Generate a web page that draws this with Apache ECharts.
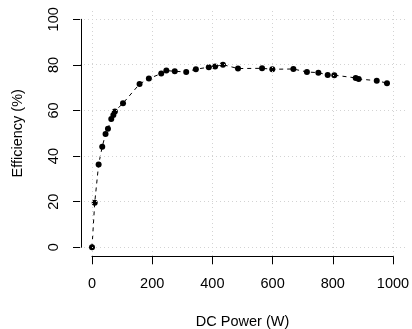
<!DOCTYPE html>
<html><head><meta charset="utf-8">
<script src="https://cdn.jsdelivr.net/npm/echarts@6/dist/echarts.min.js"></script>
<style>html,body{margin:0;padding:0;background:#fff}#c{width:412px;height:329px}</style>
</head><body><div id="c"></div>
<script>
const power = [0, 9, 22, 34, 45, 53, 64, 71, 76, 103, 158, 189, 230, 247, 275, 313, 345, 388, 409, 435, 485, 565, 599, 669, 714, 752, 783, 805, 876, 886, 946, 980];
const efficiency = [0, 19.5, 36.3, 44.1, 49.7, 52, 56.3, 58, 59.6, 63.2, 71.6, 74, 76.2, 77.5, 77.2, 76.9, 78.1, 79, 79.3, 80.1, 78.4, 78.5, 78.1, 78.2, 76.9, 76.6, 75.6, 75.5, 74.3, 73.8, 73.1, 72];
const xTicks = [0, 200, 400, 600, 800, 1000];
const yTicks = [0, 20, 40, 60, 80, 100];
const xTitle = 'DC Power (W)';
const yTitle = 'Efficiency (%)';

const chart = echarts.init(document.getElementById('c'), null, {renderer: 'canvas'});
const font = {fontFamily: 'Liberation Sans', fontSize: 14.5, color: '#000'};
const gridStyle = {color: '#d3d3d3', width: 1, type: [1, 3]};
const axisCommon = {
  axisLine: {show: true, onZero: false, lineStyle: {color: '#000', width: 1}},
  axisTick: {show: true, length: 8, lineStyle: {color: '#000', width: 1}},
  splitLine: {show: false}
};
const option = {
  animation: false,
  backgroundColor: '#fff',
  grid: [
    {left: 92, right: 19, top: 19.3, bottom: 81.7, containLabel: false, outerBoundsMode: 'none'},
    {left: 80, right: 7, top: 10, bottom: 73, containLabel: false, outerBoundsMode: 'none'}
  ],
  xAxis: [
    Object.assign({
      gridIndex: 0, type: 'value', min: xTicks[0], max: xTicks[xTicks.length - 1], interval: 200, offset: 9,
      axisLabel: Object.assign({margin: 20, formatter: v => String(v)}, font),
      name: xTitle, nameLocation: 'middle', nameGap: 58, nameTextStyle: font
    }, axisCommon),
    {gridIndex: 1, type: 'value', min: -40, max: 1040, show: false}
  ],
  yAxis: [
    Object.assign({
      gridIndex: 0, type: 'value', min: yTicks[0], max: yTicks[yTicks.length - 1], interval: 20, offset: 11,
      axisLabel: Object.assign({margin: 20, rotate: 90, formatter: v => String(v)}, font),
      name: yTitle, nameLocation: 'middle', nameGap: 56, nameTextStyle: font
    }, axisCommon),
    {gridIndex: 1, type: 'value', min: -4, max: 104, show: false}
  ],
  series: [
    {
      type: 'line', xAxisIndex: 1, yAxisIndex: 1, data: [], silent: true, z: 0,
      markLine: {
        silent: true, symbol: 'none', label: {show: false}, lineStyle: gridStyle, animation: false,
        data: xTicks.map(v => ({xAxis: v})).concat(yTicks.map(v => ({yAxis: v})))
      }
    },
    {
      type: 'line', xAxisIndex: 0, yAxisIndex: 0, z: 3,
      data: power.map((p, i) => [p, efficiency[i]]),
      symbol: 'circle', symbolSize: 6, showSymbol: true,
      itemStyle: {color: '#000'},
      lineStyle: {color: '#000', width: 1, type: [4, 4]}
    }
  ]
};
chart.setOption(option);
</script></body></html>
